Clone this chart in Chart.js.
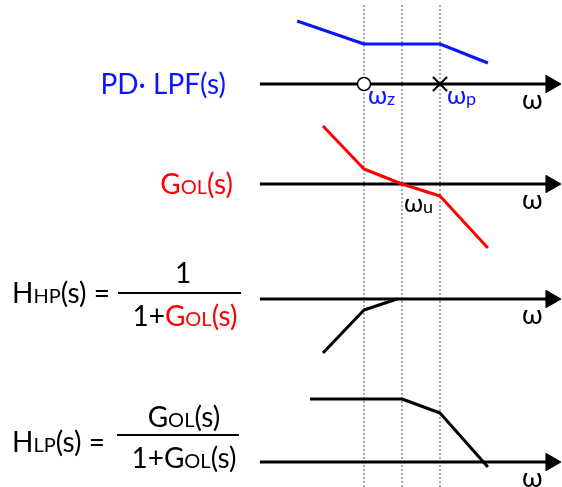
<!DOCTYPE html>
<html>
<head>
<meta charset="utf-8">
<script src="https://cdn.jsdelivr.net/npm/chart.js@4.4.1/dist/chart.umd.min.js"></script>
<style>
  html, body { margin: 0; padding: 0; background: #fff; }
  canvas { display: block; }
</style>
</head>
<body>
<canvas id="bode" width="562" height="487"></canvas>
<script>
// x values are log10(w / wz) in decades, y values are gain in dB relative to each panel's 0 dB axis
const breakW = [0, 1, 2];                 // wz, wu, wp
const axisW = [-2.74, 4.92];              // axis start, arrow head

const pdLpfW = [-1.76, 0, 2, 3.26];
const pdLpfDb = [63, 40, 40, 21];

const gOlW = [-1.08, 0, 1, 2, 3.26];
const gOlDb = [58, 15, 0, -12, -64];

const hHpW = [-1.08, 0, 0.87];
const hHpDb = [-54, -11, 0];

const hLpW = [-1.42, 1, 2, 3.26];
const hLpDb = [63, 63, 49, -5];

const BLUE = '#0a14ff';
const RED = '#ff0000';
const FONT = 'Lato, "Noto Sans", "DejaVu Sans", sans-serif';

const W = 562, H = 487;
const pxPerDecade = 38, zeroPx = 364;

// each panel gets its own hidden gain axis, 0 dB sits at the given row
function gainAxis(rowPx) {
    return { type: 'linear', display: false, min: rowPx - H, max: rowPx };
}

const pts = (xs, ys) => xs.map((x, i) => ({ x: x, y: ys[i] }));

function curve(xs, ys, color, axis) {
    return {
        data: pts(xs, ys),
        yAxisID: axis,
        showLine: true,
        borderColor: color,
        borderWidth: 3,
        borderJoinStyle: 'round',
        pointRadius: 0
    };
}

function wAxis(axis) {
    return {
        data: pts(axisW, [0, 0]),
        yAxisID: axis,
        showLine: true,
        borderColor: '#000',
        borderWidth: 3,
        pointStyle: 'triangle',
        pointRotation: 90,
        pointRadius: [0, 10],
        pointBackgroundColor: '#000',
        pointBorderColor: '#000',
        pointBorderWidth: 1
    };
}

const guides = breakW.map(w => ({
    data: [{ x: w, y: 0 }, { x: w, y: 0.994 }],
    yAxisID: 'yV',
    showLine: true,
    borderColor: '#555',
    borderWidth: 1,
    borderDash: [2, 2],
    pointRadius: 0
}));

// first dataset is drawn last, so markers go first and guides last
const datasets = [
    {
        data: [{ x: breakW[0], y: 0 }],
        yAxisID: 'yA',
        pointStyle: 'circle',
        pointRadius: 6.5,
        pointBackgroundColor: '#fff',
        pointBorderColor: '#000',
        pointBorderWidth: 1.5
    },
    {
        data: [{ x: breakW[2], y: 0 }],
        yAxisID: 'yA',
        pointStyle: 'crossRot',
        pointRadius: 10,
        pointBorderColor: '#000',
        pointBorderWidth: 2
    },
    curve(pdLpfW, pdLpfDb, BLUE, 'yA'),
    curve(gOlW, gOlDb, RED, 'yB'),
    curve(hHpW, hHpDb, '#000', 'yC'),
    curve(hLpW, hLpDb, '#000', 'yD'),
    wAxis('yA'),
    wAxis('yB'),
    wAxis('yC'),
    wAxis('yD'),
    ...guides
];

function runs(ctx, parts, x, y, align) {
    let total = 0;
    parts.forEach(p => {
        ctx.font = p[1] + 'px ' + FONT;
        p.w = ctx.measureText(p[0]).width;
        total += p.w;
    });
    let cx = align === 'right' ? x - total : align === 'center' ? x - total / 2 : x;
    parts.forEach(p => {
        ctx.font = p[1] + 'px ' + FONT;
        ctx.fillStyle = p[2];
        ctx.fillText(p[0], cx, y + (p[3] || 0));
        cx += p.w;
    });
}

function bar(ctx, x1, x2, y) {
    ctx.beginPath();
    ctx.moveTo(x1, y);
    ctx.lineTo(x2, y);
    ctx.lineWidth = 2;
    ctx.strokeStyle = '#000';
    ctx.stroke();
}

const labels = {
    id: 'labels',
    afterDatasetsDraw(chart) {
        const ctx = chart.ctx;
        const xs = chart.scales.x;
        const rows = ['yA', 'yB', 'yC', 'yD'].map(id => chart.scales[id].getPixelForValue(0));
        ctx.save();
        ctx.textBaseline = 'alphabetic';

        // transfer function names
        runs(ctx, [['PD· LPF(s)', 28, BLUE]], 226, rows[0] + 10, 'right');
        runs(ctx, [['G', 28, RED], ['OL', 20, RED], ['(s)', 28, RED]], 233, rows[1] + 10, 'right');

        runs(ctx, [['H', 28, '#000'], ['HP', 20, '#000'], ['(s) =', 28, '#000']], 12, 303, 'left');
        runs(ctx, [['1', 28, '#000']], 183, 283, 'center');
        bar(ctx, 118, 241, 293);
        runs(ctx, [['1+', 28, '#000'], ['G', 28, RED], ['OL', 20, RED], ['(s)', 28, RED]], 185, 326, 'center');

        runs(ctx, [['H', 28, '#000'], ['LP', 20, '#000'], ['(s) =', 28, '#000']], 12, 452, 'left');
        runs(ctx, [['G', 28, '#000'], ['OL', 20, '#000'], ['(s)', 28, '#000']], 184, 427, 'center');
        bar(ctx, 117, 239, 435);
        runs(ctx, [['1+G', 28, '#000'], ['OL', 20, '#000'], ['(s)', 28, '#000']], 184, 468, 'center');

        // frequency axis names
        rows.forEach(r => runs(ctx, [['ω', 27, '#000']], 522, r + 25, 'left'));

        // break frequencies
        runs(ctx, [['ω', 25, BLUE], ['z', 18, BLUE, 1]], xs.getPixelForValue(breakW[0]) + 4, rows[0] + 20, 'left');
        runs(ctx, [['ω', 25, '#000'], ['u', 18, '#000', 1]], xs.getPixelForValue(breakW[1]) + 2, rows[1] + 28, 'left');
        runs(ctx, [['ω', 25, BLUE], ['p', 18, BLUE, 1]], xs.getPixelForValue(breakW[2]) + 7, rows[0] + 20, 'left');

        ctx.restore();
    }
};

new Chart(document.getElementById('bode'), {
    type: 'scatter',
    data: { datasets: datasets },
    options: {
        responsive: false,
        animation: false,
        events: [],
        layout: { padding: 0, autoPadding: false },
        plugins: { legend: { display: false }, tooltip: { enabled: false } },
        scales: {
            x: { type: 'linear', display: false, min: -zeroPx / pxPerDecade, max: (W - zeroPx) / pxPerDecade },
            yA: gainAxis(84),
            yB: gainAxis(184),
            yC: gainAxis(299),
            yD: gainAxis(462),
            yV: { type: 'linear', display: false, min: 0, max: 1 }
        }
    },
    plugins: [labels]
});
</script>
</body>
</html>
